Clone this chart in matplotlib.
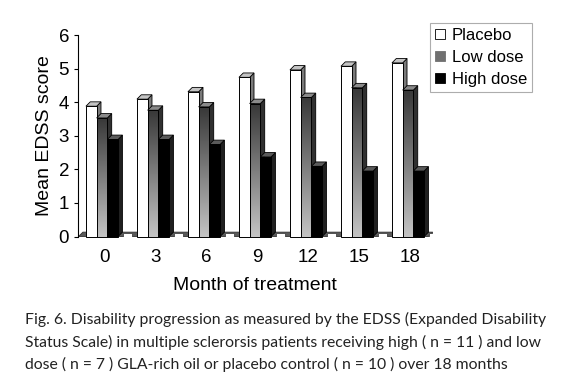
import numpy as np
import matplotlib
matplotlib.use("Agg")
import matplotlib.pyplot as plt
from matplotlib.patches import Polygon, Patch, Rectangle
from matplotlib.colors import LinearSegmentedColormap

months = ["0", "3", "6", "9", "12", "15", "18"]
series = ["Placebo", "Low dose", "High dose"]
placebo = [3.88, 4.09, 4.31, 4.74, 4.96, 5.07, 5.17]
low_dose = [3.53, 3.76, 3.86, 3.96, 4.14, 4.43, 4.36]
high_dose = [2.89, 2.89, 2.74, 2.37, 2.09, 1.95, 1.95]
yticks = [0, 1, 2, 3, 4, 5, 6]
caption = [
    "Fig. 6. Disability progression as measured by the EDSS (Expanded Disability",
    "Status Scale) in multiple sclerorsis patients receiving high ( n = 11 ) and low",
    "dose ( n = 7 ) GLA-rich oil or placebo control ( n = 10 ) over 18 months",
]

plt.rcParams['font.family'] = ['Liberation Sans', 'DejaVu Sans']

fig = plt.figure(figsize=(5.7, 3.86), dpi=100)
ax = fig.add_axes([0.136, 0.3873, 0.6237, 0.522])

W = 0.21
DX = 0.085
DY = 0.13
x = np.arange(len(months))
data = [placebo, low_dose, high_dose]
fronts = ["white", None, "black"]
tops = ["#c4c4c4", "#8a8a8a", "#5a5a5a"]
sides = ["#7a7a7a", "#303030", "#202020"]

grad = np.linspace(0, 1, 256).reshape(-1, 1)
gcmap = LinearSegmentedColormap.from_list("g", ["#c4c4c4", "#383838"])

floor = Polygon([(-0.46, 0), (6.40, 0), (6.40 + DX, DY), (-0.46 + DX, DY)],
                closed=True, facecolor="#5a5a5a", edgecolor="#303030", lw=0.6, zorder=1)
ax.add_patch(floor)

z = 2
for s, vals in enumerate(data):
    bars = ax.bar(x + (s - 1) * W, vals, width=W, align='center',
                  facecolor=fronts[s] if fronts[s] else "none",
                  edgecolor="black", linewidth=0.7, zorder=z + 2)
    for b in bars:
        x0, h = b.get_x(), b.get_height()
        x1 = x0 + b.get_width()
        side = Polygon([(x1, 0), (x1 + DX, DY), (x1 + DX, h + DY), (x1, h)],
                       closed=True, facecolor=sides[s], edgecolor="black", lw=0.6, zorder=z)
        top = Polygon([(x0, h), (x0 + DX, h + DY), (x1 + DX, h + DY), (x1, h)],
                      closed=True, facecolor=tops[s], edgecolor="black", lw=0.6, zorder=z + 1)
        for p in (side, top):
            p.set_clip_on(False)
            ax.add_patch(p)
        b.set_clip_on(False)
        if fronts[s] is None:
            im = ax.imshow(grad, cmap=gcmap, aspect='auto', origin='lower',
                           extent=[x0, x1, 0, h], zorder=z + 1.5)
            im.set_clip_path(b)
    z += 4

for i in range(len(months)):
    xs = i + 1.5 * W + DX + 0.02
    r = Rectangle((xs, 0), 0.16, 0.1, facecolor="white", edgecolor="#444444",
                  lw=0.6, zorder=1.5)
    ax.add_patch(r)

ax.set_xlim(-0.48, 6.49)
ax.set_ylim(0, 6)
ax.set_yticks(yticks)
ax.set_yticklabels([str(t) for t in yticks], fontsize=13.5)
ax.set_xticks(x + DX / 2)
ax.set_xticklabels(months, fontsize=13.5)
ax.tick_params(axis='x', length=0, pad=9)
ax.tick_params(axis='y', length=3, width=0.8, pad=3, direction='out')
for sp in ["top", "right", "bottom"]:
    ax.spines[sp].set_visible(False)
ax.spines["left"].set_linewidth(0.8)
ax.set_ylabel("Mean EDSS score", fontsize=14, labelpad=4)
ax.set_xlabel("Month of treatment", fontsize=14, labelpad=8)
ax.set_facecolor("none")

handles = [Patch(facecolor="white", edgecolor="black", lw=0.6),
           Patch(facecolor="#707070", edgecolor="#707070", lw=0.6),
           Patch(facecolor="black", edgecolor="black", lw=0.6)]
leg = fig.legend(handles, series, loc="upper left",
                 bbox_to_anchor=(430 / 570, 1 - 23 / 386), fontsize=12,
                 frameon=True, fancybox=False, edgecolor="#999999",
                 handlelength=0.6, handleheight=0.6, handletextpad=0.4,
                 borderpad=0.3, labelspacing=0.42, borderaxespad=0)
leg.get_frame().set_linewidth(0.8)

for k, line in enumerate(caption):
    fig.text(25 / 570, 1 - (324.3 + 22.5 * k) / 386, line, fontsize=11.3,
             family=['Lato', 'DejaVu Sans'], va='baseline', ha='left', color="#222222")

fig.savefig("out.png", dpi=100)
